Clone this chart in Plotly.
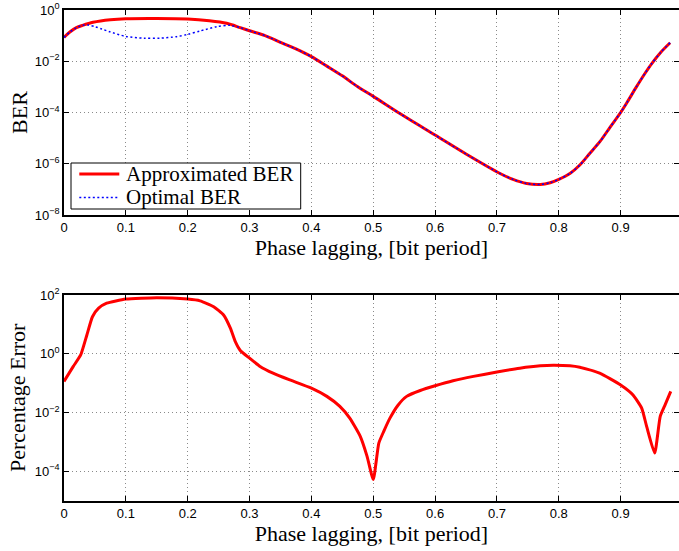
import plotly.graph_objects as go

# ---------------- data ----------------
ber_x = [0, 0.01, 0.02, 0.03, 0.047, 0.075, 0.1, 0.15, 0.2, 0.235, 0.263,
         0.285, 0.3, 0.325, 0.35, 0.375, 0.4, 0.425, 0.45, 0.475, 0.5, 0.543,
         0.6, 0.65, 0.705, 0.726, 0.748, 0.77, 0.786, 0.8, 0.818, 0.834, 0.85,
         0.867, 0.883, 0.9, 0.91, 0.925, 0.94, 0.95, 0.965, 0.98]
approx_log = [-1.07, -0.85, -0.69, -0.6, -0.48, -0.38, -0.34, -0.33, -0.35, -0.42, -0.52,
              -0.69, -0.81, -1.0, -1.26, -1.52, -1.82, -2.19, -2.57, -3.0, -3.37, -4.04,
              -4.88, -5.62, -6.38, -6.61, -6.77, -6.81, -6.74, -6.61, -6.38, -6.05, -5.6,
              -5.12, -4.57, -4.0, -3.62, -3.02, -2.45, -2.1, -1.65, -1.28]

opt_x = [0, 0.01, 0.02, 0.03, 0.04, 0.05, 0.061, 0.074, 0.1, 0.129, 0.155, 0.182, 0.2,
         0.22, 0.247, 0.268, 0.285, 0.3, 0.325, 0.35, 0.375, 0.4, 0.425, 0.45, 0.475,
         0.5, 0.543, 0.6, 0.65, 0.705, 0.726, 0.748, 0.77, 0.786, 0.8, 0.818, 0.834, 0.85,
         0.867, 0.883, 0.9, 0.91, 0.925, 0.94, 0.95, 0.965, 0.98]
optimal_log = [-1.07, -0.85, -0.69, -0.6, -0.59, -0.65, -0.74, -0.85, -1.03, -1.1, -1.1, -1.04, -0.95,
               -0.82, -0.65, -0.6, -0.69, -0.81, -1.0, -1.26, -1.52, -1.82, -2.19, -2.57, -3.0,
               -3.37, -4.04, -4.88, -5.62, -6.38, -6.61, -6.77, -6.81, -6.74, -6.61, -6.38, -6.05, -5.6,
               -5.12, -4.57, -4.0, -3.62, -3.02, -2.45, -2.1, -1.65, -1.28]

err_x = [0, 0.015, 0.027, 0.037, 0.046, 0.056, 0.069, 0.1, 0.15, 0.2, 0.22, 0.242,
         0.258, 0.269, 0.277, 0.285, 0.3, 0.317, 0.338, 0.365, 0.4, 0.425, 0.446, 0.462,
         0.479, 0.49, 0.5, 0.509, 0.517, 0.527, 0.54, 0.554, 0.576, 0.6, 0.629, 0.662,
         0.7, 0.737, 0.77, 0.791, 0.818, 0.834, 0.866, 0.9, 0.92, 0.934, 0.942, 0.955,
         0.964, 0.972, 0.981]
err_log = [-0.94, -0.43, -0.04, 0.64, 1.26, 1.55, 1.72, 1.86, 1.91, 1.86, 1.8, 1.6,
           1.32, 0.87, 0.41, 0.11, -0.15, -0.43, -0.66, -0.89, -1.17, -1.45, -1.79, -2.19,
           -2.81, -3.49, -4.28, -3.04, -2.64, -2.19, -1.75, -1.45, -1.25, -1.09, -0.92, -0.77,
           -0.62, -0.49, -0.41, -0.39, -0.41, -0.46, -0.66, -1.06, -1.4, -1.85, -2.47, -3.38,
           -2.13, -1.73, -1.28]

x_ticks = [0, 0.1, 0.2, 0.3, 0.4, 0.5, 0.6, 0.7, 0.8, 0.9]
x_ticktext = ["0", "0.1", "0.2", "0.3", "0.4", "0.5", "0.6", "0.7", "0.8", "0.9"]
ber_exp = [0, -2, -4, -6, -8]
err_exp = [2, 0, -2, -4]
legend_names = ["Approximated BER", "Optimal BER"]

approx_ber = [10 ** v for v in approx_log]
optimal_ber = [10 ** v for v in optimal_log]
pct_err = [10 ** v for v in err_log]


def exp_label(e):
    return "10<sup>" + ("\u2212" if e < 0 else "") + str(abs(e)) + "</sup>"


SERIF = "Liberation Serif"
SANS = "Liberation Sans"
RED = "#ff0000"
BLUE = "#0000ff"
BLUE_DASH = "2px,2.5px"

fig = go.Figure()
fig.add_trace(go.Scatter(x=ber_x, y=approx_ber, mode="lines", name=legend_names[0],
                         line=dict(color=RED, width=3, shape="spline", smoothing=0.8),
                         showlegend=False, xaxis="x", yaxis="y"))
fig.add_trace(go.Scatter(x=opt_x, y=optimal_ber, mode="lines", name=legend_names[1],
                         line=dict(color=BLUE, width=1.5, dash=BLUE_DASH, shape="spline", smoothing=0.8),
                         showlegend=False, xaxis="x", yaxis="y"))
fig.add_trace(go.Scatter(x=err_x, y=pct_err, mode="lines", name="Percentage Error",
                         line=dict(color=RED, width=3, shape="spline", smoothing=0.5),
                         showlegend=False, xaxis="x2", yaxis="y2"))

W, H = 679, 551
ML = 64
PW = W - ML
top_dom = [1 - 215 / H, 1 - 10 / H]
bot_dom = [1 - 500.7 / H, 1 - 295 / H]
xmax = PW / 618.5

GRID = "#8a8a8a"
common_x = dict(range=[0, xmax], tickvals=x_ticks, ticktext=x_ticktext,
                showgrid=True, griddash="1px,3px", gridcolor=GRID, gridwidth=1,
                zeroline=False, showline=True, linecolor="black", linewidth=1.5,
                mirror="ticks", ticks="inside", ticklen=5, tickcolor="black",
                tickfont=dict(family=SANS, size=13, color="black"),
                automargin=False)
common_y = dict(type="log", showgrid=True, griddash="1px,3px", gridcolor=GRID, gridwidth=1,
                zeroline=False, showline=True, linecolor="black", linewidth=1.5,
                mirror="ticks", ticks="inside", ticklen=5, tickcolor="black",
                tickfont=dict(family=SANS, size=13, color="black"),
                automargin=False)


# legend drawn at pixel positions of the reference (converted to paper units)
def px(v):
    return (v - ML) / PW


def py(v):
    return 1 - v / H


LEG_Y1, LEG_Y2 = 174, 197.5
shapes = [
    dict(type="rect", xref="paper", yref="paper", x0=px(71), x1=px(300.7), y0=py(209), y1=py(163),
         line=dict(color="black", width=1), fillcolor="white", layer="above"),
    dict(type="line", xref="paper", yref="paper", x0=px(79.3), x1=px(119.3), y0=py(LEG_Y1), y1=py(LEG_Y1),
         line=dict(color=RED, width=3)),
    dict(type="line", xref="paper", yref="paper", x0=px(79.3), x1=px(119.3), y0=py(LEG_Y2), y1=py(LEG_Y2),
         line=dict(color=BLUE, width=1.5, dash=BLUE_DASH)),
]
annotations = [
    dict(text=legend_names[0], xref="paper", yref="paper", x=px(124), y=py(LEG_Y1),
         xanchor="left", yanchor="middle", showarrow=False,
         font=dict(family=SERIF, size=21, color="black")),
    dict(text=legend_names[1], xref="paper", yref="paper", x=px(124), y=py(LEG_Y2),
         xanchor="left", yanchor="middle", showarrow=False,
         font=dict(family=SERIF, size=21, color="black")),
]

fig.update_layout(
    width=W, height=H,
    margin=dict(l=ML, r=0, t=0, b=0),
    paper_bgcolor="white", plot_bgcolor="white",
    showlegend=False,
    xaxis=dict(common_x, domain=[0, 1], anchor="y",
               title=dict(text="Phase lagging, [bit period]", standoff=1,
                          font=dict(family=SERIF, size=22, color="black"))),
    yaxis=dict(common_y, domain=top_dom, anchor="x", range=[-8, 0],
               tickvals=[10 ** e for e in ber_exp], ticktext=[exp_label(e) for e in ber_exp],
               title=dict(text="BER", standoff=1,
                          font=dict(family=SERIF, size=22, color="black"))),
    xaxis2=dict(common_x, domain=[0, 1], anchor="y2",
                title=dict(text="Phase lagging, [bit period]", standoff=1,
                           font=dict(family=SERIF, size=22, color="black"))),
    yaxis2=dict(common_y, domain=bot_dom, anchor="x2", range=[-5, 2],
                tickvals=[10 ** e for e in err_exp], ticktext=[exp_label(e) for e in err_exp],
                title=dict(text="Percentage Error", standoff=3,
                           font=dict(family=SERIF, size=22, color="black"))),
    shapes=shapes,
    annotations=annotations,
)

fig.write_html("out.html")
